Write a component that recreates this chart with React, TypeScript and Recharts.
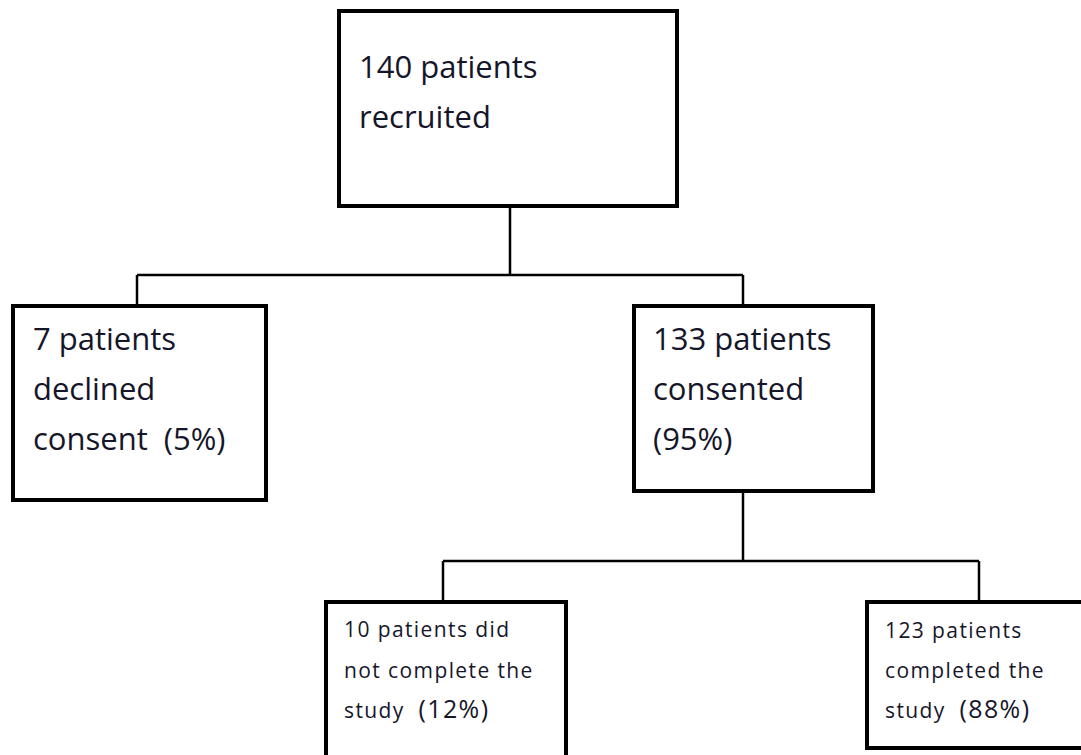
import React from 'react'
import { ScatterChart, XAxis, YAxis, ReferenceArea, ReferenceLine } from 'recharts'

const W = 1081
const H = 755

// flow data
const STAGES = ['recruited', 'declined', 'consented', 'not completed', 'completed']
const PATIENTS = [140, 7, 133, 10, 123]
const PERCENT = [null, 5, 95, 12, 88]
const PARENT = [null, 0, 0, 2, 2]

const LABEL_LINES = [
  [`${PATIENTS[0]} patients`, 'recruited'],
  [`${PATIENTS[1]} patients`, 'declined', `consent  (${PERCENT[1]}%)`],
  [`${PATIENTS[2]} patients`, 'consented', `(${PERCENT[2]}%)`],
  [`${PATIENTS[3]} patients did`, 'not complete the', `study  (${PERCENT[3]}%)`],
  [`${PATIENTS[4]} patients`, 'completed the', `study  (${PERCENT[4]}%)`],
]

// layout (pixel coords of the canvas, stroke centres)
const BOX = [
  { x1: 339, x2: 677, y1: 11, y2: 206, anchor: 510, padX: 20, base: 67, gap: 50, size: 31, pct: 31, spacing: 0 },
  { x1: 13, x2: 266, y1: 306, y2: 500, anchor: 137, padX: 20, base: 44, gap: 50, size: 31, pct: 31, spacing: 0 },
  { x1: 634, x2: 873, y1: 306, y2: 491, anchor: 743, padX: 19, base: 44, gap: 50, size: 31, pct: 31, spacing: 0 },
  { x1: 326, x2: 566, y1: 602, y2: 775, anchor: 443, padX: 18, base: 35, gap: 40.5, size: 21, pct: 25, spacing: 1.4 },
  { x1: 867, x2: 1095, y1: 602, y2: 748, anchor: 979, padX: 18, base: 36, gap: 40, size: 21, pct: 25, spacing: 1.4 },
]
const BUS_Y: Record<number, number> = { 0: 275, 2: 561 }

const FONT = "'Open Sans', sans-serif"
const INK = '#16162a'

const boxLabel = (i: number) => (props: any) => {
  const vb = props.viewBox || props
  const b = BOX[i]
  const x = vb.x + b.padX
  return (
    <text
      x={x}
      y={vb.y + b.base}
      fill={INK}
      fontFamily={FONT}
      fontSize={b.size}
      letterSpacing={b.spacing}
      style={{ whiteSpace: 'pre' }}
    >
      {LABEL_LINES[i].map((line, k) => {
        const cut = line.indexOf('(')
        const y = vb.y + b.base + k * b.gap
        if (cut <= 0) {
          return (
            <tspan key={k} x={x} y={y}>
              {line}
            </tspan>
          )
        }
        return (
          <React.Fragment key={k}>
            <tspan x={x} y={y}>
              {line.slice(0, cut)}
            </tspan>
            <tspan fontSize={b.pct}>{line.slice(cut)}</tspan>
          </React.Fragment>
        )
      })}
    </text>
  )
}

const connectors = () => {
  const segs: { x1: number; y1: number; x2: number; y2: number }[] = []
  const parents = Array.from(new Set(PARENT.filter((p) => p !== null))) as number[]
  parents.forEach((p) => {
    const kids = PARENT.map((q, i) => (q === p ? i : -1)).filter((i) => i >= 0)
    const bus = BUS_Y[p]
    segs.push({ x1: BOX[p].anchor, y1: BOX[p].y2, x2: BOX[p].anchor, y2: bus })
    const xs = kids.map((k) => BOX[k].anchor)
    segs.push({ x1: Math.min(...xs), y1: bus, x2: Math.max(...xs), y2: bus })
    kids.forEach((k) => segs.push({ x1: BOX[k].anchor, y1: bus, x2: BOX[k].anchor, y2: BOX[k].y1 }))
  })
  return segs
}

export default function App() {
  return (
    <div style={{ position: 'absolute', left: 0, top: 0, background: '#fff' }}>
      <ScatterChart width={W} height={H} margin={{ top: 0, right: 0, bottom: 0, left: 0 }}>
        <XAxis type="number" dataKey="x" domain={[0, W]} hide allowDataOverflow />
        <YAxis type="number" dataKey="y" domain={[0, H]} reversed hide allowDataOverflow />
        {connectors().map((s, i) => (
          <ReferenceLine
            key={`c${i}`}
            segment={[{ x: s.x1, y: s.y1 }, { x: s.x2, y: s.y2 }]}
            stroke="#000"
            strokeWidth={2.5}
            ifOverflow="visible"
          />
        ))}
        {STAGES.map((name, i) => (
          <ReferenceArea
            key={name}
            x1={BOX[i].x1}
            x2={BOX[i].x2}
            y1={BOX[i].y1}
            y2={BOX[i].y2}
            fill="#fff"
            fillOpacity={1}
            stroke="#000"
            strokeWidth={4}
            ifOverflow="visible"
            label={boxLabel(i)}
          />
        ))}
      </ScatterChart>
    </div>
  )
}
